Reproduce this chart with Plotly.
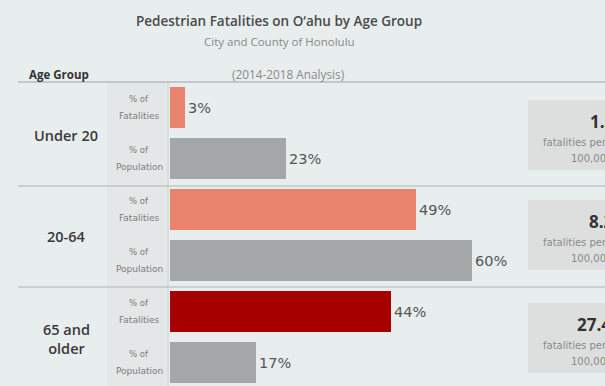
import plotly.graph_objects as go

# ---- data ----
age_groups = ["Under 20", "20-64", "65 and<br>older"]
metric_labels = ["% of<br>Fatalities", "% of<br>Population"]
pct_fatalities = [3, 49, 44]
pct_population = [23, 60, 17]
fatality_colors = ["#e9836d", "#e9836d", "#a60000"]
population_color = "#a3a7a8"
rate_values = ["1.3", "8.2", "27.4"]
rate_caption = ["fatalities per", "100,000"]

title = "Pedestrian Fatalities on O\u2018ahu by Age Group"
subtitle = "City and County of Honolulu"
period = "(2014-2018 Analysis)"
header = "Age Group"

W, H = 605, 386
def X(px):
    return px / W
def Y(py):
    return 1 - py / H

# build bar rows: two per group
ys, xs, cols, texts = [], [], [], []
for i in range(len(age_groups)):
    ys += [2 * i, 2 * i + 1]
    xs += [pct_fatalities[i], pct_population[i]]
    cols += [fatality_colors[i], population_color]
    texts += [f"{pct_fatalities[i]}%", f"{pct_population[i]}%"]

fig = go.Figure()
fig.add_trace(go.Bar(
    x=xs, y=ys, orientation="h", width=0.81,
    marker=dict(color=cols, line=dict(width=0)),
    text=texts, textposition="outside", cliponaxis=False,
    constraintext="none",
    textfont=dict(family="DejaVu Sans", size=14.5, color="#555555"),
    hoverinfo="skip",
))

px_per_unit = 5.03
x0_px = 170
fig.update_xaxes(domain=[X(x0_px), 1], range=[0, (W - x0_px) / px_per_unit],
                 visible=False, fixedrange=True)
row_pitch = 51.0
first_center = 107.8
top_px = 82
fig.update_yaxes(domain=[0, Y(top_px)],
                 range=[(H - first_center) / row_pitch, -(first_center - top_px) / row_pitch],
                 visible=False, fixedrange=True)

shapes = []
# label column background
shapes.append(dict(type="rect", xref="paper", yref="paper", x0=X(107), x1=X(167),
                   y0=Y(H + 5), y1=Y(top_px), fillcolor="#e3e7e7", line=dict(width=0), layer="below"))
# vertical axis line
shapes.append(dict(type="line", xref="paper", yref="paper", x0=X(168), x1=X(168),
                   y0=Y(H + 5), y1=Y(top_px), line=dict(color="#c9cdcd", width=1), layer="below"))
# header line
shapes.append(dict(type="line", xref="paper", yref="paper", x0=X(18), x1=X(W + 5),
                   y0=Y(82), y1=Y(82), line=dict(color="#9ea3a3", width=1.2)))
# group separators
for py in [186, 287]:
    shapes.append(dict(type="line", xref="paper", yref="paper", x0=X(18), x1=X(W + 5),
                       y0=Y(py), y1=Y(py), line=dict(color="#aeb3b3", width=1.2)))
# rate boxes
box_tops = [100, 200, 303]
for t in box_tops:
    shapes.append(dict(type="rect", xref="paper", yref="paper", x0=X(528), x1=X(W + 20),
                       y0=Y(t + 70), y1=Y(t), fillcolor="#dddfdf", line=dict(width=0), layer="below"))

def A(text, px, py, size, color, weight="normal", xanchor="center", family="Open Sans"):
    return dict(text=text, x=X(px), y=Y(py), xref="paper", yref="paper", showarrow=False,
                xanchor=xanchor, yanchor="middle",
                font=dict(family=family, size=size, color=color, weight=weight))

ann = []
ann.append(A(title, 279, 21, 13.5, "#4a4a4a", 600))
ann.append(A(subtitle, 279, 42, 11.5, "#8a8a8a"))
ann.append(A(period, 288, 74, 11.8, "#8a8a8a"))
ann.append(A(header, 27, 74, 11.5, "#333333", "bold", "left"))

group_centers = [135, 237, 339]
for i, g in enumerate(age_groups):
    ann.append(A(g, 66, group_centers[i], 14.5, "#3a3a3a", 600))
    for j in range(2):
        cy = first_center + row_pitch * (2 * i + j)
        lines = metric_labels[j].split("<br>")
        ann.append(A(lines[0], 139, cy - 8.5, 8.5, "#7c7c7c", family="DejaVu Sans"))
        ann.append(A(lines[1], 139, cy + 8.5, 9, "#7c7c7c", family="DejaVu Sans"))

num_left = [588, 587, 575]
for i, t in enumerate(box_tops):
    ann.append(A(rate_values[i], num_left[i], t + 21, 17, "#333333", "bold", "left"))
    ann.append(A(rate_caption[0], 541, t + 42, 10, "#8a8a8a", "normal", "left", "DejaVu Sans"))
    ann.append(A(rate_caption[1], 569, t + 58, 10, "#8a8a8a", "normal", "left", "DejaVu Sans"))

fig.update_layout(
    width=W, height=H, autosize=False,
    margin=dict(l=0, r=0, t=0, b=0, pad=0),
    paper_bgcolor="#e8eded", plot_bgcolor="rgba(0,0,0,0)",
    showlegend=False, shapes=shapes, annotations=ann,
    bargap=0,
)
fig.write_html("out.html", config={"displayModeBar": False})
